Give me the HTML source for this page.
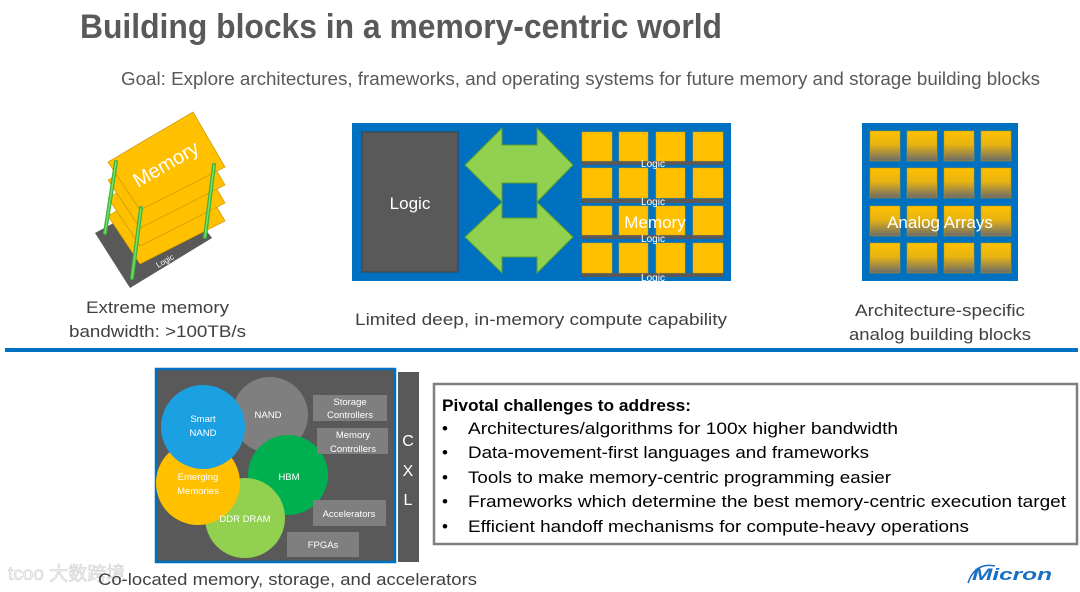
<!DOCTYPE html>
<html><head><meta charset="utf-8"><style>
html,body{margin:0;padding:0;background:#fff;}
svg{display:block;font-family:"Liberation Sans","Noto Sans CJK SC",sans-serif;}
</style></head><body>
<svg width="1080" height="592" viewBox="0 0 1080 592" xmlns="http://www.w3.org/2000/svg">
<defs>
<linearGradient id="ag" x1="0" y1="0" x2="0" y2="1"><stop offset="0" stop-color="#ffc000"/><stop offset="0.45" stop-color="#e8b410"/><stop offset="1" stop-color="#6b6b6b"/></linearGradient>
</defs>
<text x="80" y="38" font-size="34" font-weight="bold" fill="#595959" textLength="642" lengthAdjust="spacingAndGlyphs">Building blocks in a memory-centric world</text>
<text x="121" y="85" font-size="18" fill="#595959" textLength="919" lengthAdjust="spacingAndGlyphs">Goal: Explore architectures, frameworks, and operating systems for future memory and storage building blocks</text>

<!-- stack -->
<polygon points="95,233 175,190 212,238 130,288" fill="#595959"/>
<g fill="#ffc000" stroke="#c89600" stroke-width="0.7">
<polygon points="108,216 193,166 225,221 140,264"/>
<polygon points="108,198 193,148 225,203 140,246"/>
<polygon points="108,180 193,130 225,185 140,228"/>
<polygon points="108,162 193,112 225,167 140,210"/>
</g>
<text x="0" y="0" font-size="20" fill="#fff" transform="translate(138,188) rotate(-30)">Memory</text>
<text x="0" y="0" font-size="8" fill="#fff" transform="translate(158,268) rotate(-30)">Logic</text>
<g stroke="#3cb043" stroke-width="4" stroke-linecap="round"><line x1="116" y1="162" x2="105" y2="233"/><line x1="141" y1="208" x2="132" y2="278"/><line x1="214" y1="165" x2="205" y2="237"/></g>
<g stroke="#7be05a" stroke-width="1.5" stroke-linecap="round"><line x1="116" y1="162" x2="105" y2="233"/><line x1="141" y1="208" x2="132" y2="278"/><line x1="214" y1="165" x2="205" y2="237"/></g>

<!-- middle -->
<rect x="352" y="123" width="379" height="158" fill="#0070c0"/>
<rect x="362" y="132" width="96" height="140" fill="#595959" stroke="#404040"/>
<text x="410" y="209" font-size="17" fill="#fff" text-anchor="middle">Logic</text>
<g fill="#92d050" stroke="#5aa02c" stroke-width="1">
<polygon points="465,165 502,128 502,145 537,145 537,128 573,165 537,202 537,183 502,183 502,202"/>
<polygon points="465,237 502,202 502,218 537,218 537,202 573,237 537,273 537,257 502,257 502,273"/>
</g>
<g fill="#595959">
<rect x="582" y="161" width="141" height="4"/><rect x="582" y="199" width="141" height="4"/><rect x="582" y="235" width="141" height="4"/><rect x="582" y="273" width="141" height="4"/>
</g>
<g fill="#ffc000" stroke="#d9a400" stroke-width="0.5">
<rect x="582" y="132" width="30" height="29"/><rect x="619" y="132" width="29" height="29"/><rect x="656" y="132" width="29" height="29"/><rect x="693" y="132" width="30" height="29"/>
<rect x="582" y="168" width="30" height="30"/><rect x="619" y="168" width="29" height="30"/><rect x="656" y="168" width="29" height="30"/><rect x="693" y="168" width="30" height="30"/>
<rect x="582" y="206" width="30" height="29"/><rect x="619" y="206" width="29" height="29"/><rect x="656" y="206" width="29" height="29"/><rect x="693" y="206" width="30" height="29"/>
<rect x="582" y="243" width="30" height="30"/><rect x="619" y="243" width="29" height="30"/><rect x="656" y="243" width="29" height="30"/><rect x="693" y="243" width="30" height="30"/>
</g>
<g font-size="10" fill="#fff" text-anchor="middle">
<text x="653" y="167">Logic</text><text x="653" y="205">Logic</text><text x="653" y="242">Logic</text><text x="653" y="281">Logic</text>
</g>
<text x="655" y="228" font-size="17" fill="#fff" text-anchor="middle">Memory</text>

<!-- analog -->
<rect x="862" y="123" width="156" height="158" fill="#0070c0"/>
<g fill="url(#ag)" stroke="#c89600" stroke-width="0.5">
<rect x="870" y="131" width="30" height="30"/><rect x="907" y="131" width="30" height="30"/><rect x="944" y="131" width="30" height="30"/><rect x="981" y="131" width="30" height="30"/>
<rect x="870" y="168" width="30" height="30"/><rect x="907" y="168" width="30" height="30"/><rect x="944" y="168" width="30" height="30"/><rect x="981" y="168" width="30" height="30"/>
<rect x="870" y="206" width="30" height="30"/><rect x="907" y="206" width="30" height="30"/><rect x="944" y="206" width="30" height="30"/><rect x="981" y="206" width="30" height="30"/>
<rect x="870" y="243" width="30" height="30"/><rect x="907" y="243" width="30" height="30"/><rect x="944" y="243" width="30" height="30"/><rect x="981" y="243" width="30" height="30"/>
</g>
<text x="940" y="228" font-size="17" fill="#fff" text-anchor="middle">Analog Arrays</text>

<!-- captions -->
<g font-size="17" fill="#404040">
<text x="86" y="313" textLength="143" lengthAdjust="spacingAndGlyphs">Extreme memory</text>
<text x="69" y="337" textLength="177" lengthAdjust="spacingAndGlyphs">bandwidth: &gt;100TB/s</text>
<text x="355" y="325" textLength="372" lengthAdjust="spacingAndGlyphs">Limited deep, in-memory compute capability</text>
<text x="855" y="316" textLength="170" lengthAdjust="spacingAndGlyphs">Architecture-specific</text>
<text x="849" y="340" textLength="182" lengthAdjust="spacingAndGlyphs">analog building blocks</text>
</g>
<rect x="5" y="348" width="1073" height="4" fill="#0070c0"/>

<!-- bottom left -->
<rect x="156" y="369" width="239" height="193" fill="#595959" stroke="#0070c0" stroke-width="2.5"/>
<circle cx="270" cy="415" r="38" fill="#7f7f7f"/>
<circle cx="288" cy="475" r="40" fill="#00b050"/>
<circle cx="245" cy="518" r="40" fill="#92d050"/>
<circle cx="198" cy="483" r="42" fill="#ffc000"/>
<circle cx="203" cy="427" r="42" fill="#1ba1e2"/>
<g font-size="9.5" fill="#fff" text-anchor="middle">
<text x="203" y="422">Smart</text><text x="203" y="436">NAND</text>
<text x="268" y="418">NAND</text>
<text x="198" y="480">Emerging</text><text x="198" y="494">Memories</text>
<text x="289" y="480">HBM</text>
<text x="245" y="522">DDR DRAM</text>
</g>
<g fill="#7f7f7f">
<rect x="313" y="395" width="74" height="26"/><rect x="317" y="428" width="71" height="26"/><rect x="313" y="500" width="73" height="26"/><rect x="287" y="532" width="72" height="25"/>
</g>
<g font-size="9.5" fill="#fff" text-anchor="middle">
<text x="350" y="405">Storage</text><text x="350" y="418">Controllers</text>
<text x="353" y="438">Memory</text><text x="353" y="452">Controllers</text>
<text x="349" y="517">Accelerators</text>
<text x="323" y="548">FPGAs</text>
</g>
<rect x="398" y="372" width="21" height="190" fill="#595959"/>
<g font-size="16" fill="#fff" text-anchor="middle"><text x="408" y="446">C</text><text x="408" y="476">X</text><text x="408" y="505">L</text></g>

<!-- challenges -->
<rect x="434" y="384" width="643" height="160" fill="#fff" stroke="#7f7f7f" stroke-width="2.5"/>
<text x="442" y="411" font-size="17" font-weight="bold" fill="#000" textLength="249" lengthAdjust="spacingAndGlyphs">Pivotal challenges to address:</text>
<g font-size="17" fill="#000">
<text x="442" y="434">•</text><text x="468" y="434" textLength="430" lengthAdjust="spacingAndGlyphs">Architectures/algorithms for 100x higher bandwidth</text>
<text x="442" y="458">•</text><text x="468" y="458" textLength="401" lengthAdjust="spacingAndGlyphs">Data-movement-first languages and frameworks</text>
<text x="442" y="483">•</text><text x="468" y="483" textLength="423" lengthAdjust="spacingAndGlyphs">Tools to make memory-centric programming easier</text>
<text x="442" y="507">•</text><text x="468" y="507" textLength="598" lengthAdjust="spacingAndGlyphs">Frameworks which determine the best memory-centric execution target</text>
<text x="442" y="532">•</text><text x="468" y="532" textLength="501" lengthAdjust="spacingAndGlyphs">Efficient handoff mechanisms for compute-heavy operations</text>
</g>

<text x="8" y="580" font-size="19" fill="#f2f2f2" stroke="#d0d0d0" stroke-width="0.6">tcoo 大数跨境</text>
<text x="98" y="585" font-size="17" fill="#404040" textLength="379" lengthAdjust="spacingAndGlyphs">Co-located memory, storage, and accelerators</text>

<text x="972" y="580" font-size="17" font-weight="bold" font-style="italic" fill="#1a6fc4" textLength="80" lengthAdjust="spacingAndGlyphs">Micron</text>
<path d="M968 583 Q975 562 995 566" fill="none" stroke="#1a6fc4" stroke-width="1.5"/>
</svg>
</body></html>
